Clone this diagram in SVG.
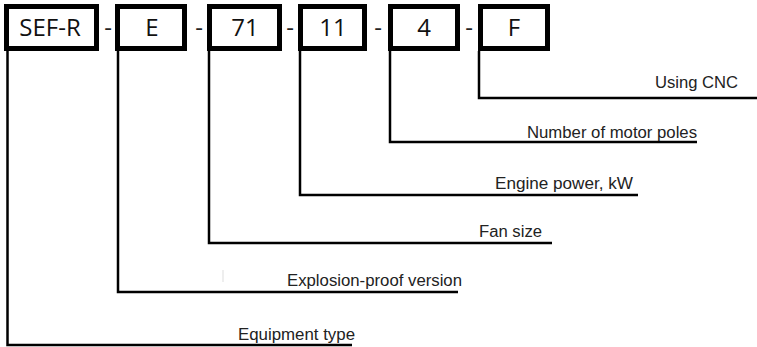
<svg xmlns="http://www.w3.org/2000/svg" width="757" height="347" viewBox="0 0 757 347">
<style>
.box{fill:#fff;stroke:#000;stroke-width:5}
.code{font-family:"Open Sans","Liberation Sans",sans-serif;font-size:24px;fill:#111;text-anchor:middle}
.dash{font-family:"Open Sans","Liberation Sans",sans-serif;font-size:24px;fill:#222;text-anchor:middle}
.lbl{font-family:"Liberation Sans",Arial,sans-serif;font-size:16px;fill:#222;text-anchor:start}
.con{fill:none;stroke:#000;stroke-width:2.5}
</style>
<rect width="757" height="347" fill="#fff"/>
<g id="connectors">
<polyline class="con" points="7.5,51 7.5,345 352,345"/>
<polyline class="con" points="118,51 118,292 458,292"/>
<polyline class="con" points="209,51 209,243 552,243"/>
<polyline class="con" points="300,51 300,195 638,195"/>
<polyline class="con" points="390,51 390,142 697,142"/>
<polyline class="con" points="479,51 479,98 757,98"/>
<line x1="223" y1="270" x2="223" y2="282" stroke="#ddd" stroke-width="1"/>
</g>
<g id="dashes">
<text class="dash" x="108" y="36">-</text>
<text class="dash" x="199" y="36">-</text>
<text class="dash" x="290" y="36">-</text>
<text class="dash" x="378" y="36">-</text>
<text class="dash" x="469" y="36">-</text>
</g>
<g id="box-sefr"><rect class="box" x="6.5" y="6.5" width="90" height="42"/><text class="code" x="50" y="36">SEF-R</text></g>
<g id="box-e"><rect class="box" x="117.5" y="6.5" width="67" height="42"/><text class="code" x="152" y="36">E</text></g>
<g id="box-71"><rect class="box" x="209.5" y="6.5" width="70" height="42"/><text class="code" x="245" y="36">71</text></g>
<g id="box-11"><rect class="box" x="300.5" y="6.5" width="64" height="42"/><text class="code" x="333" y="36">11</text></g>
<g id="box-4"><rect class="box" x="390.5" y="6.5" width="67" height="42"/><text class="code" x="424" y="36">4</text></g>
<g id="box-f"><rect class="box" x="480.5" y="6.5" width="67" height="42"/><text class="code" x="514" y="36">F</text></g>
<g id="labels">
<text class="lbl" x="655" y="88" textLength="83" lengthAdjust="spacingAndGlyphs">Using CNC</text>
<text class="lbl" x="527" y="137.5" textLength="170" lengthAdjust="spacingAndGlyphs">Number of motor poles</text>
<text class="lbl" x="495" y="189" textLength="138" lengthAdjust="spacingAndGlyphs">Engine power, kW</text>
<text class="lbl" x="479" y="237" textLength="63" lengthAdjust="spacingAndGlyphs">Fan size</text>
<text class="lbl" x="287" y="286" textLength="175" lengthAdjust="spacingAndGlyphs">Explosion-proof version</text>
<text class="lbl" x="238" y="340" textLength="117" lengthAdjust="spacingAndGlyphs">Equipment type</text>
</g>
</svg>
